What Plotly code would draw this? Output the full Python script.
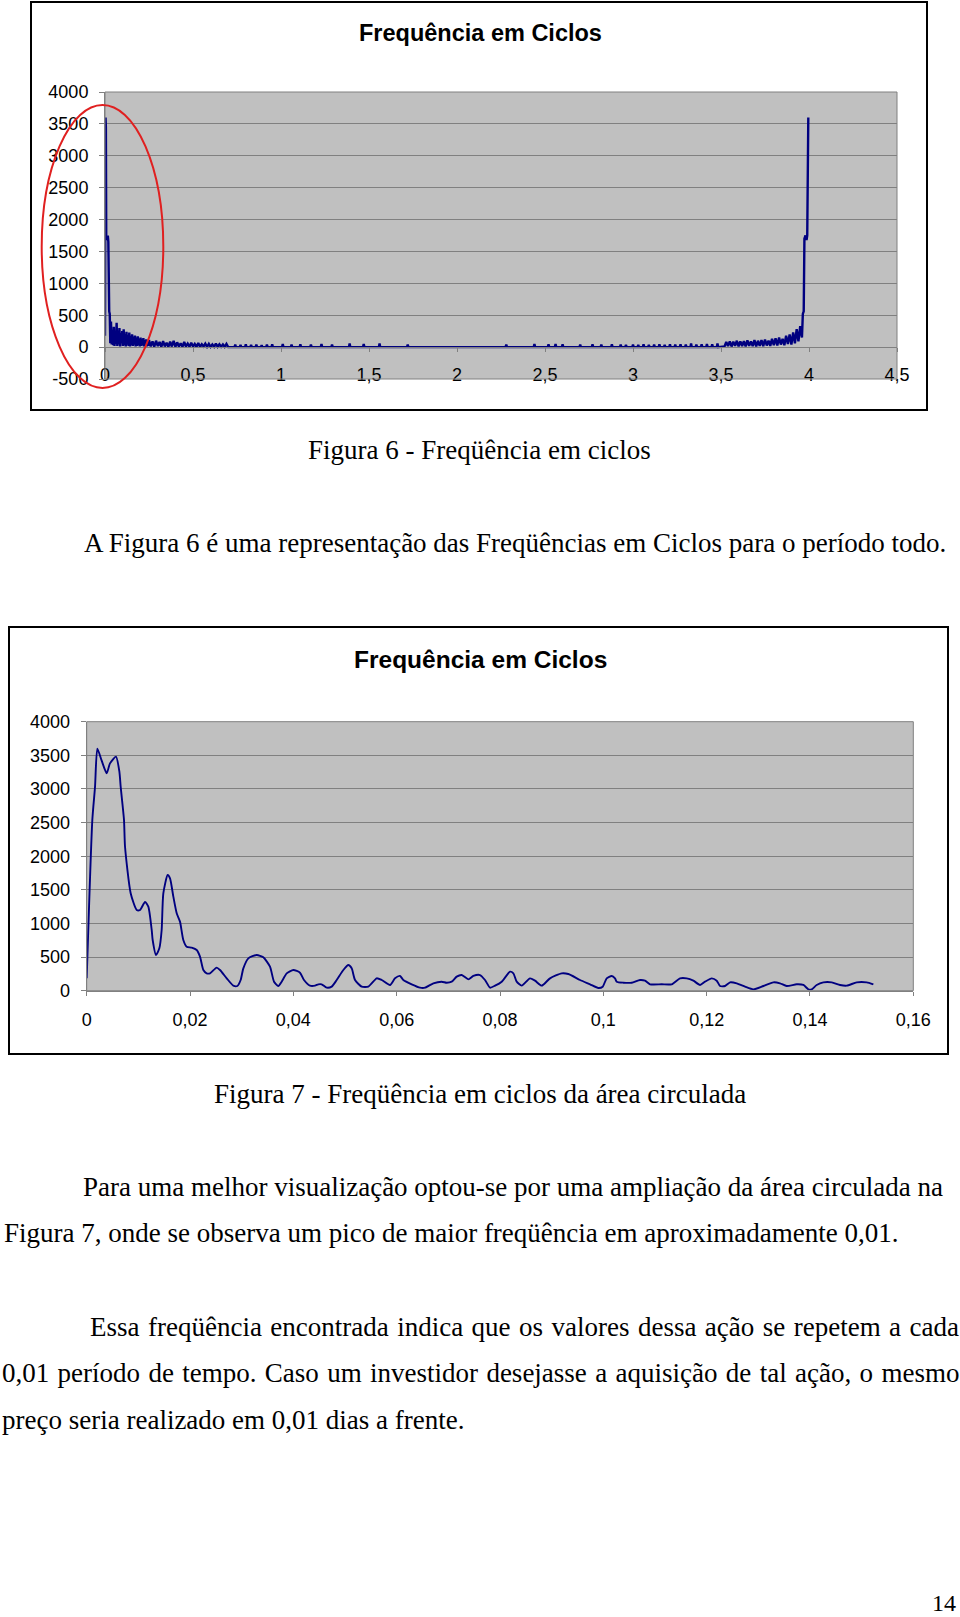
import plotly.graph_objects as go

# ---------------- DATA ----------------
# Figure 6: full period spectrum (frequency in cycles)
# main spike near 0
f6_spike0_x = [0.000, 0.003, 0.005, 0.007, 0.010, 0.013, 0.016, 0.019, 0.021, 0.024, 0.027]
f6_spike0_y = [180, 3600, 3450, 1750, 1680, 1720, 1750, 1650, 900, 560, 520]
# dense noise band 0.03 - 0.25
f6_band_x = [0.030, 0.034, 0.038, 0.042, 0.046, 0.050, 0.054, 0.058, 0.062, 0.066,
             0.070, 0.074, 0.078, 0.082, 0.086, 0.090, 0.094, 0.098, 0.102, 0.106,
             0.110, 0.114, 0.118, 0.122, 0.126, 0.130, 0.134, 0.138, 0.142, 0.146,
             0.150, 0.154, 0.158, 0.162, 0.166, 0.170, 0.174, 0.178, 0.182, 0.186,
             0.190, 0.194, 0.198, 0.202, 0.206, 0.210, 0.214, 0.218, 0.222, 0.226,
             0.230, 0.234, 0.238, 0.242, 0.246]
f6_band_y = [60, 400, 40, 250, 30, 320, 20, 180, 50, 380,
             20, 260, 40, 300, 10, 220, 60, 250, 20, 280,
             30, 200, 10, 240, 40, 190, 20, 230, 10, 170,
             30, 200, 20, 160, 40, 180, 10, 150, 20, 170,
             30, 130, 10, 150, 20, 120, 30, 140, 10, 110,
             20, 120, 10, 100, 20]
# low noise 0.25 - 0.70
f6_low_x = [0.25, 0.26, 0.27, 0.28, 0.29, 0.30, 0.31, 0.32, 0.33, 0.34,
            0.35, 0.36, 0.37, 0.38, 0.39, 0.40, 0.41, 0.42, 0.43, 0.44,
            0.45, 0.46, 0.47, 0.48, 0.49, 0.50, 0.51, 0.52, 0.53, 0.54,
            0.55, 0.56, 0.57, 0.58, 0.59, 0.60, 0.61, 0.62, 0.63, 0.64,
            0.65, 0.66, 0.67, 0.68, 0.69, 0.70]
f6_low_y = [110, 10, 90, 5, 100, 15, 80, 5, 95, 10,
            70, 5, 85, 10, 100, 5, 75, 10, 60, 5,
            80, 10, 55, 5, 70, 10, 50, 5, 65, 5,
            45, 10, 55, 5, 50, 5, 40, 5, 55, 5,
            45, 5, 40, 5, 50, 0]
# flat middle with sparse tiny spikes 0.72 - 3.50
f6_flat_x = [0.736, 0.740, 0.744, 0.766, 0.770, 0.774, 0.796, 0.800, 0.804,
             0.826, 0.830, 0.834, 0.856, 0.860, 0.864, 0.886, 0.890, 0.894,
             0.916, 0.920, 0.924, 0.946, 0.950, 0.954, 1.006, 1.010, 1.014,
             1.056, 1.060, 1.064, 1.106, 1.110, 1.114, 1.166, 1.170, 1.174,
             1.226, 1.230, 1.234, 1.286, 1.290, 1.294, 1.386, 1.390, 1.394,
             1.466, 1.470, 1.474, 1.556, 1.560, 1.564, 1.716, 1.720, 1.724,
             2.276, 2.280, 2.284, 2.436, 2.440, 2.444, 2.516, 2.520, 2.524,
             2.556, 2.560, 2.564, 2.596, 2.600, 2.604, 2.696, 2.700, 2.704,
             2.766, 2.770, 2.774, 2.816, 2.820, 2.824, 2.876, 2.880, 2.884,
             2.926, 2.930, 2.934, 2.956, 2.960, 2.964, 2.996, 3.000, 3.004,
             3.026, 3.030, 3.034, 3.056, 3.060, 3.064, 3.086, 3.090, 3.094,
             3.116, 3.120, 3.124, 3.146, 3.150, 3.154, 3.176, 3.180, 3.184,
             3.206, 3.210, 3.214, 3.236, 3.240, 3.244, 3.266, 3.270, 3.274,
             3.296, 3.300, 3.304, 3.326, 3.330, 3.334, 3.356, 3.360, 3.364,
             3.386, 3.390, 3.394, 3.416, 3.420, 3.424, 3.446, 3.450, 3.454,
             3.476, 3.480, 3.484]
f6_flat_y = [0, 40, 0, 0, 35, 0, 0, 45, 0,
             0, 35, 0, 0, 40, 0, 0, 30, 0,
             0, 40, 0, 0, 45, 0, 0, 50, 0,
             0, 40, 0, 0, 45, 0, 0, 40, 0,
             0, 50, 0, 0, 40, 0, 0, 55, 0,
             0, 50, 0, 0, 55, 0, 0, 40, 0,
             0, 40, 0, 0, 50, 0, 0, 45, 0,
             0, 50, 0, 0, 45, 0, 0, 40, 0,
             0, 45, 0, 0, 40, 0, 0, 45, 0,
             0, 40, 0, 0, 35, 0, 0, 40, 0,
             0, 35, 0, 0, 45, 0, 0, 35, 0,
             0, 40, 0, 0, 45, 0, 0, 35, 0,
             0, 45, 0, 0, 40, 0, 0, 45, 0,
             0, 40, 0, 0, 55, 0, 0, 40, 0,
             0, 45, 0, 0, 50, 0, 0, 45, 0,
             0, 55, 0]
# rising noise 3.52 - 3.96 and mirrored spike near 4
f6_rise_x = [3.52, 3.53, 3.54, 3.55, 3.56, 3.57, 3.58, 3.59, 3.60, 3.61,
             3.62, 3.63, 3.64, 3.65, 3.66, 3.67, 3.68, 3.69, 3.70, 3.71,
             3.72, 3.73, 3.74, 3.75, 3.76, 3.77, 3.78, 3.79, 3.80, 3.81,
             3.82, 3.83, 3.84, 3.85, 3.86, 3.87, 3.88, 3.89, 3.90, 3.91,
             3.92, 3.93, 3.94, 3.95, 3.96,
             3.965, 3.970, 3.974, 3.980, 3.986, 3.990, 3.996]
f6_rise_y = [10, 80, 15, 90, 10, 85, 20, 100, 10, 90,
             15, 95, 10, 105, 20, 90, 15, 110, 10, 100,
             20, 110, 15, 120, 25, 100, 20, 130, 30, 140,
             25, 150, 40, 130, 30, 180, 50, 200, 40, 230,
             60, 280, 90, 330, 150,
             520, 560, 1700, 1750, 1680, 1750, 3600]

fig6_xticks = [0, 0.5, 1, 1.5, 2, 2.5, 3, 3.5, 4, 4.5]
fig6_xlabels = ["0", "0,5", "1", "1,5", "2", "2,5", "3", "3,5", "4", "4,5"]
fig6_yticks = [-500, 0, 500, 1000, 1500, 2000, 2500, 3000, 3500, 4000]
fig6_ylabels = ["-500", "0", "500", "1000", "1500", "2000", "2500", "3000", "3500", "4000"]

# Figure 7: zoom on circled area
fig7_x = [0.0, 0.00109, 0.00161, 0.00206, 0.0029, 0.00387, 0.00451, 0.00567, 0.00632,
          0.00658, 0.00722, 0.00742, 0.00851, 0.00968, 0.01032, 0.01129, 0.01193, 0.01258,
          0.01277, 0.01342, 0.01406, 0.01451, 0.01483, 0.01567, 0.01613, 0.01677, 0.01742,
          0.01806, 0.0187, 0.01935, 0.02032, 0.02129, 0.02193, 0.02258, 0.02322, 0.02387,
          0.02516, 0.0258, 0.0271, 0.02838, 0.02916, 0.0298, 0.03032, 0.03129, 0.0329,
          0.03419, 0.03548, 0.03626, 0.03709, 0.03774, 0.03871, 0.04, 0.04129, 0.04206,
          0.04322, 0.04419, 0.04484, 0.04548, 0.04645, 0.04742, 0.04839, 0.04968, 0.05064,
          0.05129, 0.05194, 0.05323, 0.05452, 0.05516, 0.05613, 0.0571, 0.05871, 0.05968,
          0.06065, 0.06129, 0.06291, 0.06452, 0.06549, 0.0671, 0.06871, 0.06968, 0.07065,
          0.07162, 0.07259, 0.07387, 0.07484, 0.07613, 0.0771, 0.07807, 0.07904, 0.08033,
          0.08194, 0.08259, 0.08323, 0.0842, 0.08581, 0.08678, 0.08807, 0.08968, 0.09194,
          0.09323, 0.09549, 0.09743, 0.09904, 0.09988, 0.10065, 0.10162, 0.10226, 0.10259,
          0.10388, 0.10549, 0.1071, 0.10807, 0.10904, 0.1113, 0.11323, 0.11484, 0.11614,
          0.11743, 0.11872, 0.11969, 0.12098, 0.12195, 0.12259, 0.12356, 0.12453, 0.12582,
          0.12743, 0.12904, 0.13098, 0.13291, 0.1342, 0.13549, 0.13743, 0.13872, 0.13969,
          0.14033, 0.1413, 0.14259, 0.14421, 0.14582, 0.14711, 0.14905, 0.15098, 0.15227]
fig7_y = [184, 2540, 3030, 3600, 3420, 3233, 3380, 3480, 3260,
          3030, 2540, 2140, 1450, 1200, 1200, 1320, 1250, 903,
          754, 531, 630, 903, 1448, 1720, 1671, 1398, 1151,
          1027, 754, 655, 640, 605, 506, 308, 259, 259,
          343, 308, 184, 75, 70, 159, 333, 481, 531,
          496, 357, 134, 70, 134, 258, 308, 268, 159,
          75, 75, 95, 95, 45, 60, 159, 308, 382,
          333, 159, 60, 60, 110, 184, 159, 85, 184,
          219, 159, 95, 45, 45, 110, 134, 119, 134,
          209, 233, 169, 219, 233, 159, 45, 75, 134,
          283, 258, 134, 75, 184, 149, 75, 184, 258,
          248, 159, 95, 40, 60, 184, 219, 184, 134,
          119, 119, 159, 149, 95, 95, 95, 184, 184,
          149, 85, 134, 184, 149, 70, 70, 124, 110,
          60, 20, 70, 124, 110, 70, 95, 85, 20,
          20, 85, 124, 124, 85, 75, 124, 124, 95]

fig7_xticks = [0, 0.02, 0.04, 0.06, 0.08, 0.10, 0.12, 0.14, 0.16]
fig7_xlabels = ["0", "0,02", "0,04", "0,06", "0,08", "0,1", "0,12", "0,14", "0,16"]
fig7_yticks = [0, 500, 1000, 1500, 2000, 2500, 3000, 3500, 4000]
fig7_ylabels = ["0", "500", "1000", "1500", "2000", "2500", "3000", "3500", "4000"]

chart_title = "Frequência em Ciclos"

# ---------------- LAYOUT HELPERS ----------------
W, H = 960, 1617
def px(x):
    return x / W
def py(y):
    return 1 - y / H

NAVY = "#000080"
GRID = "#808080"
SANS = "Liberation Sans, Arial, sans-serif"
SERIF = "Liberation Serif, Times New Roman, serif"

fig6_x = f6_spike0_x + f6_band_x + f6_low_x + f6_flat_x + f6_rise_x
fig6_y = f6_spike0_y + f6_band_y + f6_low_y + f6_flat_y + f6_rise_y

fig = go.Figure()
fig.add_trace(go.Scatter(x=fig6_x, y=fig6_y, mode="lines", xaxis="x", yaxis="y",
                         line=dict(color=NAVY, width=2.4), hoverinfo="skip"))
fig.add_trace(go.Scatter(x=fig7_x, y=fig7_y, mode="lines", xaxis="x2", yaxis="y2",
                         line=dict(color=NAVY, width=1.9, shape="spline", smoothing=0.6),
                         hoverinfo="skip"))

axis_common = dict(showline=True, linecolor=GRID, linewidth=1, ticks="outside",
                   tickcolor=GRID, zeroline=False, fixedrange=True,
                   tickfont=dict(family=SANS, size=18, color="black"))

fig.update_layout(
    template="none",
    width=W, height=H,
    margin=dict(l=0, r=0, t=0, b=0),
    paper_bgcolor="white",
    plot_bgcolor="#c0c0c0",
    showlegend=False,
    xaxis=dict(domain=[px(105), px(897)], range=[0, 4.5], anchor="free",
               position=py(347), tickmode="array", tickvals=fig6_xticks,
               ticktext=fig6_xlabels, ticklen=4, showgrid=False,
               ticklabelstandoff=7, **axis_common),
    yaxis=dict(domain=[py(379), py(92)], range=[-500, 4000], anchor="x",
               tickmode="array", tickvals=fig6_yticks, ticktext=fig6_ylabels,
               ticklen=5, showgrid=True, gridcolor=GRID, gridwidth=1,
               ticklabelstandoff=7, **axis_common),
    xaxis2=dict(domain=[px(86.7), px(913.3)], range=[0, 0.16], anchor="y2",
                tickmode="array", tickvals=fig7_xticks, ticktext=fig7_xlabels,
                ticklen=4, showgrid=False, ticklabelstandoff=9, **axis_common),
    yaxis2=dict(domain=[py(990.7), py(721.7)], range=[0, 4000], anchor="x2",
                tickmode="array", tickvals=fig7_yticks, ticktext=fig7_ylabels,
                ticklen=5, showgrid=True, gridcolor=GRID, gridwidth=1,
                ticklabelstandoff=7, **axis_common),
)

shapes = [
    dict(type="rect", xref="paper", yref="paper", x0=px(31), x1=px(927), y0=py(410), y1=py(2),
         line=dict(color="black", width=2), layer="below"),
    dict(type="rect", xref="paper", yref="paper", x0=px(9), x1=px(948), y0=py(1054), y1=py(627),
         line=dict(color="black", width=2), layer="below"),
    dict(type="rect", xref="x domain", yref="y domain", x0=0, x1=1, y0=0, y1=1,
         line=dict(color=GRID, width=1)),
    dict(type="rect", xref="x2 domain", yref="y2 domain", x0=0, x1=1, y0=0, y1=1,
         line=dict(color=GRID, width=1)),
    dict(type="circle", xref="paper", yref="paper", x0=px(41.7), x1=px(163.3),
         y0=py(388), y1=py(105), line=dict(color="#e02020", width=2), layer="above"),
]

def ann(text, x, y, xanchor="left", size=27, family=SERIF, bold=False, wspace=None):
    if bold:
        text = "<b>" + text + "</b>"
    if wspace is not None:
        text = '<span style="word-spacing:%.2fpx">' % wspace + text + "</span>"
    return dict(text=text, x=px(x), y=py(y), xref="paper", yref="paper",
                xanchor=xanchor, yanchor="middle", showarrow=False,
                font=dict(family=family, size=size, color="black"))

annotations = [
    ann(chart_title, 480, 33, "center", 23.5, SANS, True),
    ann(chart_title, 480, 659, "center", 24.5, SANS, True),
    ann("Figura 6 - Freqüência em ciclos", 479, 450, "center"),
    ann("A Figura 6 é uma representação das Freqüências em Ciclos para o período todo.", 82, 543),
    ann("Figura 7 - Freqüência em ciclos da área circulada", 480, 1094, "center"),
    ann("Para uma melhor visualização optou-se por uma ampliação da área circulada na", 81, 1187),
    ann("Figura 7, onde se observa um pico de maior freqüência em aproximadamente 0,01.", 2, 1233),
    ann("Essa freqüência encontrada indica que os valores dessa ação se repetem a cada", 88, 1327,
        wspace=1.7),
    ann("0,01 período de tempo. Caso um investidor desejasse a aquisição de tal ação, o mesmo", 0, 1373,
        wspace=1.6),
    ann("preço seria realizado em 0,01 dias a frente.", 0, 1420),
    ann("14", 958, 1603, "right", 24),
]

fig.update_layout(shapes=shapes, annotations=annotations)
fig.write_html("out.html")
